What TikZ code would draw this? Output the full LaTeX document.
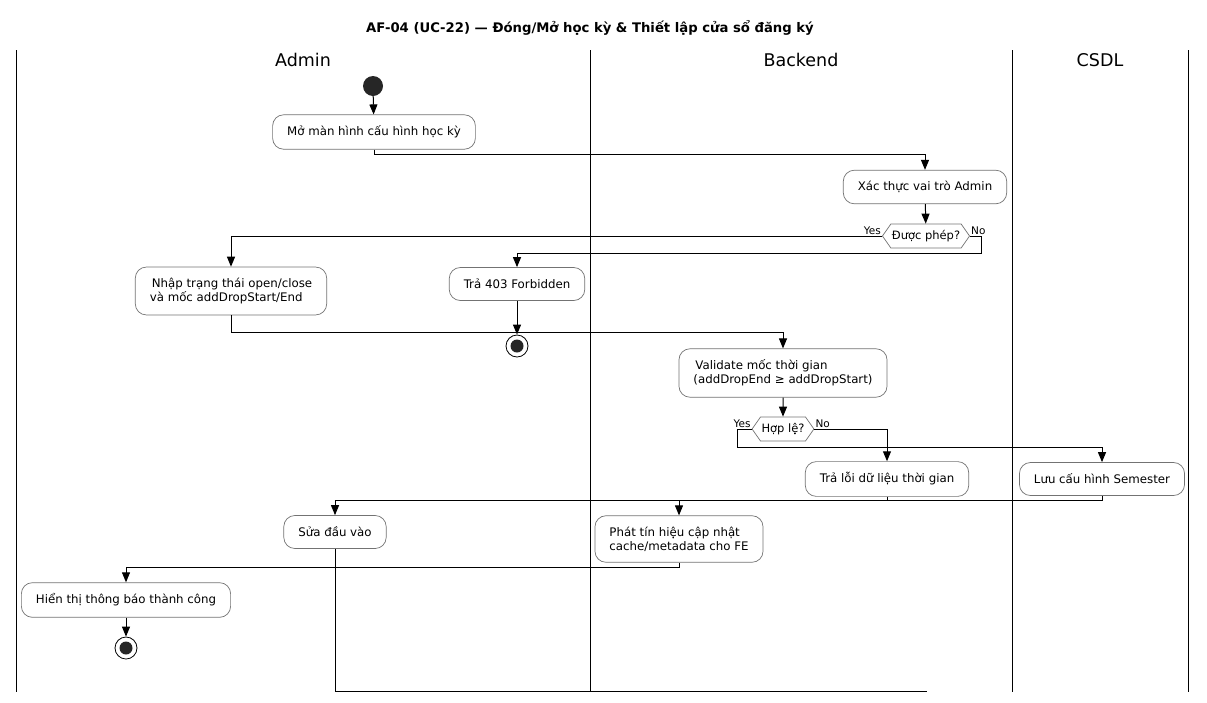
\documentclass[tikz,border=0pt]{standalone}
\usepackage{fontspec}
\setmainfont{DejaVu Sans}
\usetikzlibrary{arrows.meta,shapes.symbols,calc}

\tikzset{
    action/.style={draw=black!55, line width=0.7pt, rounded corners=11pt, fill=white,
        align=left, inner xsep=14.5pt, inner ysep=11pt, minimum height=33pt,
        font=\fontsize{11.8}{14}\selectfont},
    choice/.style={draw=black!55, line width=0.7pt, signal, signal to=east and west,
        signal pointer angle=110, inner xsep=1pt, inner ysep=4pt, minimum height=24pt,
        font=\fontsize{11.5}{13}\selectfont},
    startdot/.style={circle, fill=black!85, minimum size=20pt, inner sep=0pt},
    enddot/.style={circle, draw=black, line width=0.8pt, minimum size=22pt, inner sep=0pt,
        path picture={\fill[black!85] (path picture bounding box.center) circle (6.5pt);}},
    flow/.style={line width=1pt, -{Triangle[length=10pt,width=8pt]}},
    line/.style={line width=1pt},
    branch/.style={font=\fontsize{10.5}{12}\selectfont, inner sep=1pt},
    lane/.style={font=\fontsize{17.5}{20}\selectfont}
}

\begin{document}
\begin{tikzpicture}[x=1pt, y=-1pt]
    \useasboundingbox (0,0) rectangle (1207,702);

    % Title
    \node[font=\fontsize{13.2}{16}\selectfont\bfseries] (title) at (590,28) {AF-04 (UC-22) — Đóng/Mở học kỳ \& Thiết lập cửa sổ đăng ký};

    % Swimlanes
    \foreach \x in {16,590,1012,1188}
        \draw[line width=1pt] (\x,50) -- (\x,692);
    \node[lane] (adminLane) at (303,60) {Admin};
    \node[lane] (backendLane) at (801,60) {Backend};
    \node[lane] (dbLane) at (1100,60) {CSDL};

    % Nodes
    \node[startdot] (start) at (373,86) {};
    \node[action] (openCfg) at (374,132) {Mở màn hình cấu hình học kỳ};
    \node[action] (checkRole) at (925,187) {Xác thực vai trò Admin};
    \node[choice] (allowed) at (926,236) {Được phép?};
    \node[action] (input) at (231,291) {\,Nhập trạng thái open/close\\và mốc addDropStart/End};
    \node[action] (forbid) at (517,284) {Trả 403 Forbidden};
    \node[enddot] (stopA) at (517,346) {};
    \node[action] (validate) at (783,373) {\,Validate mốc thời gian\\(addDropEnd ≥ addDropStart)};
    \node[choice] (valid) at (783,429) {Hợp lệ?};
    \node[action] (timeErr) at (887,479) {Trả lỗi dữ liệu thời gian};
    \node[action] (save) at (1102,479) {Lưu cấu hình Semester};
    \node[action] (fixInput) at (335,532) {Sửa đầu vào};
    \node[action] (notify) at (679,539) {Phát tín hiệu cập nhật\\cache/metadata cho FE};
    \node[action] (success) at (126,600) {Hiển thị thông báo thành công};
    \node[enddot] (stopB) at (126,648) {};

    % Branch labels
    \node[branch, anchor=south east] (yesA) at (allowed.west) {Yes};
    \node[branch, anchor=south west] (noA) at (allowed.east) {No};
    \node[branch, anchor=south east] (yesB) at (valid.west) {Yes};
    \node[branch, anchor=south west] (noB) at (valid.east) {No};

    % Flows
    \draw[flow] (start) -- (openCfg);
    \draw[flow] (openCfg.south) -- ++(0,5) -| (checkRole.north);
    \draw[flow] (checkRole) -- (allowed);
    \draw[flow] (allowed.west) -| (input.north);
    \draw[flow] (allowed.east) -| ++(12,17) -| (forbid.north);
    \draw[flow] (forbid) -- (stopA);
    \draw[flow] (input.south) -- ++(0,17) -| (validate.north);
    \draw[flow] (validate) -- (valid);
    \draw[flow] (valid.west) -| ++(-14,18) -| (save.north);
    \draw[flow] (valid.east) -| (timeErr.north);

    % Merge after validation
    \coordinate (merge) at (335,500);
    \draw[line] (timeErr.south) -- (timeErr.south |- merge);
    \draw[line] (save.south) |- (merge);
    \draw[flow] (merge) -- (fixInput.north);
    \draw[flow] (notify.north |- merge) -- (notify.north);

    \draw[flow] (notify.south) -- ++(0,5) -| (success.north);
    \draw[flow] (success) -- (stopB);

    % Loop back from input fix
    \coordinate (loopEnd) at (927,691);
    \draw[line] (fixInput.south) |- (loopEnd);
\end{tikzpicture}
\end{document}
